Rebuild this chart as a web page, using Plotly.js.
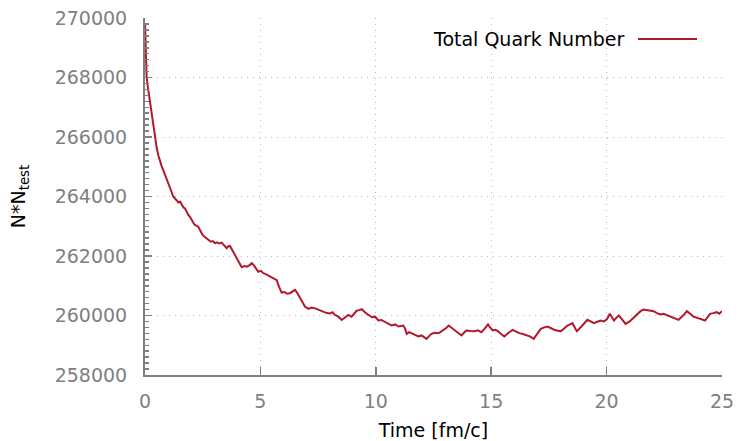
<!DOCTYPE html>
<html>
<head>
<meta charset="utf-8">
<script src="https://cdn.plot.ly/plotly-3.0.1.min.js"></script>
<style>html,body{margin:0;padding:0;background:#fff;}#chart{width:738px;height:441px;}</style>
</head>
<body>
<div id="chart"></div>
<script>
const seriesName = "Total Quark Number";
const xTitle = "Time [fm/c]";
const yTitle = "N*N<sub>test</sub>";
const time = [
  0, 0.04, 0.07, 0.12, 0.18, 0.24, 0.29, 0.36, 0.43, 0.51, 0.58, 0.65, 0.72, 0.79, 0.87, 0.94, 1.01, 1.08, 1.15, 1.22, 1.3, 1.38, 1.45, 1.52, 1.6, 1.66, 1.73, 1.8, 1.88, 1.96, 2.05, 2.14, 2.22, 2.31, 2.4, 2.5, 2.58, 2.67, 2.76, 2.85, 2.94, 3.03, 3.12, 3.2, 3.32, 3.43, 3.54, 3.6, 3.68, 3.78, 3.88, 3.97, 4.08, 4.19, 4.3, 4.42, 4.55, 4.62, 4.69, 4.8, 4.91, 5.02, 5.13, 5.25, 5.42, 5.55, 5.71, 5.8, 5.92, 6.05, 6.15, 6.28, 6.4, 6.5, 6.58, 6.64, 6.78, 6.93, 7.08, 7.22, 7.37, 7.55, 7.73, 7.88, 8.02, 8.12, 8.23, 8.38, 8.52, 8.66, 8.81, 8.95, 9.06, 9.17, 9.28, 9.39, 9.54, 9.68, 9.83, 9.97,
  10.11, 10.25, 10.4, 10.55, 10.69, 10.84, 10.98, 11.19, 11.27, 11.34, 11.45, 11.55, 11.7, 11.84, 11.98, 12.1, 12.2, 12.3, 12.41, 12.55, 12.7, 12.8, 12.92, 13.05, 13.16, 13.3, 13.42, 13.56, 13.71, 13.82, 13.92, 14.1, 14.28, 14.42, 14.57, 14.72, 14.86, 14.95, 15.07, 15.18, 15.29, 15.43, 15.57, 15.75, 15.93, 16.08, 16.22, 16.4, 16.58, 16.7, 16.84, 17.0, 17.15, 17.3, 17.44, 17.58, 17.73, 17.88, 18.02, 18.16, 18.3, 18.42, 18.52, 18.62, 18.71, 18.8, 18.88, 19.03, 19.17, 19.31, 19.45, 19.6, 19.74, 19.89, 20.02, 20.14, 20.23, 20.32, 20.42, 20.53, 20.68, 20.82, 21.0, 21.18, 21.32, 21.47, 21.6, 21.75, 21.9, 22.04, 22.18, 22.33, 22.47, 22.61, 22.72, 22.83, 22.98, 23.12, 23.3, 23.48, 23.62, 23.76, 23.9, 24.05, 24.16, 24.27, 24.38, 24.48, 24.62, 24.77, 24.88, 25.0
];
const quarks = [
  269820, 268700, 268030, 267700, 267360, 267150, 266900, 266460, 266010, 265620, 265380, 265170, 265020, 264890, 264740, 264600, 264470, 264330, 264160, 264000, 263930, 263880, 263800, 263830, 263700, 263640, 263600, 263480, 263380, 263300, 263180, 263060, 263020, 262985, 262850, 262700, 262650, 262600, 262540, 262480, 262500, 262430, 262460, 262420, 262450, 262360, 262260, 262320, 262340, 262200, 262050, 261920, 261780, 261620, 261660, 261640, 261700, 261760, 261720, 261580, 261470, 261500, 261420, 261380, 261300, 261260, 261190, 260980, 260770, 260790, 260730, 260750, 260800, 260860, 260780, 260690, 260480, 260300, 260220, 260270, 260240, 260180, 260130, 260080, 260070, 260110, 260020, 259960, 259850, 259920, 260020, 259960, 260060, 260160, 260180, 260210, 260100, 260020, 259940, 259960,
  259832, 259850, 259776, 259720, 259664, 259700, 259630, 259664, 259560, 259384, 259440, 259406, 259350, 259294, 259330, 259260, 259216, 259300, 259384, 259420, 259406, 259440, 259496, 259580, 259664, 259580, 259496, 259400, 259328, 259420, 259496, 259480, 259474, 259500, 259440, 259560, 259698, 259600, 259496, 259520, 259474, 259380, 259294, 259420, 259518, 259460, 259406, 259370, 259328, 259290, 259216, 259400, 259552, 259600, 259630, 259580, 259518, 259490, 259474, 259560, 259664, 259700, 259742, 259600, 259474, 259540, 259608, 259740, 259854, 259800, 259742, 259790, 259832, 259800, 259880, 260056, 259950, 259832, 259920, 260000, 259860, 259720, 259800, 259922, 260030, 260146, 260200, 260190, 260170, 260146, 260080, 260034, 260060, 260010, 259980, 259944, 259900, 259854, 259990, 260146, 260060, 259966, 259930, 259888, 259860, 259832, 259950, 260056, 260080, 260112, 260060, 260146
];
const xTicks = [0, 5, 10, 15, 20, 25];
const yTicks = [258000, 260000, 262000, 264000, 266000, 268000, 270000];

const lineColor = '#b2182b';
const gray = '#808080';
const font = 'DejaVu Sans, sans-serif';

const trace = {
  x: time, y: quarks, type: 'scatter', mode: 'lines', name: seriesName,
  line: {color: lineColor, width: 2}, showlegend: false, hoverinfo: 'skip'
};

const axisCommon = {
  showline: true, linecolor: gray, linewidth: 2,
  ticks: 'inside', tickcolor: gray, tickwidth: 1.5,
  showgrid: true, gridcolor: '#b8b8b8', griddash: '1px,5px', gridwidth: 1,
  zeroline: false, mirror: false,
  tickfont: {family: font, size: 19, color: gray}
};

const layout = {
  width: 738, height: 441,
  margin: {l: 145, r: 16, t: 18, b: 66, pad: 0},
  paper_bgcolor: '#fff', plot_bgcolor: '#fff',
  font: {family: font, color: '#000'},
  xaxis: Object.assign({}, axisCommon, {
    range: [0, 25], tickvals: xTicks, ticktext: xTicks.map(String), ticklen: 8,
    ticklabelstandoff: 8,
    title: {text: xTitle, font: {family: font, size: 19, color: '#000'}, standoff: 14}
  }),
  yaxis: Object.assign({}, axisCommon, {
    range: [258000, 270000], tickvals: yTicks, ticktext: yTicks.map(String), ticklen: 7,
    ticklabelstandoff: 12,
    minor: {dtick: 200, ticks: 'inside', ticklen: 4, tickcolor: gray, tickwidth: 1.5, showgrid: false},
    title: {text: yTitle, font: {family: font, size: 19, color: '#000'}, standoff: 24}
  }),
  shapes: [
    {type: 'rect', xref: 'paper', yref: 'paper', x0: (415-145)/577, x1: (712-145)/577, y0: (375-52)/357, y1: (375-27)/357,
     fillcolor: '#fff', line: {width: 0}, layer: 'between'},
    {type: 'line', xref: 'paper', yref: 'paper', x0: (638-145)/577, x1: (697-145)/577, y0: (375-39)/357, y1: (375-39)/357,
     line: {color: lineColor, width: 2}}
  ],
  annotations: [
    {xref: 'paper', yref: 'paper', x: (626-145)/577, y: (375-39)/357, xanchor: 'right', yanchor: 'middle',
     text: seriesName, showarrow: false, font: {family: font, size: 19, color: '#000'}}
  ]
};

Plotly.newPlot('chart', [trace], layout, {staticPlot: true, displayModeBar: false});
</script>
</body>
</html>
